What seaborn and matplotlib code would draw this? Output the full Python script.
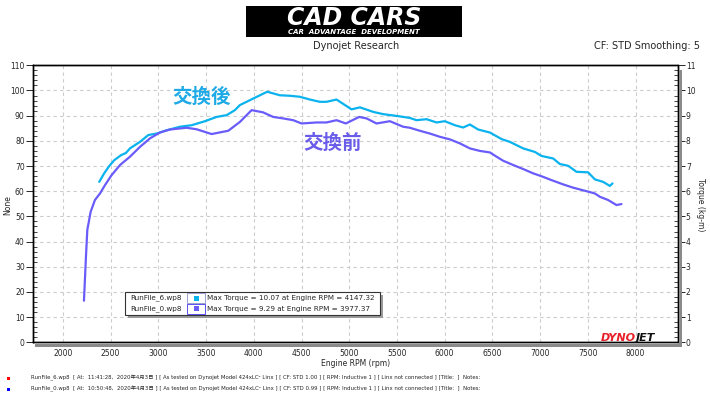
import numpy as np
import pandas as pd
import matplotlib
matplotlib.use("Agg")
import matplotlib.pyplot as plt
from matplotlib.patches import Rectangle
from matplotlib.ticker import MultipleLocator
import seaborn as sns

# ---------------- data ----------------
rpm_after = [2380, 2432, 2485, 2537, 2608, 2660, 2702, 2807, 2894, 2981, 3086, 3226,
             3348, 3488, 3610, 3715, 3802, 3854, 3994, 4140, 4273, 4378, 4483, 4588,
             4692, 4762, 4867, 5024, 5112, 5251, 5356, 5496, 5635, 5705, 5810, 5915,
             6002, 6107, 6194, 6264, 6351, 6474, 6596, 6683, 6823, 6945, 7015, 7137,
             7207, 7294, 7382, 7503, 7574, 7661, 7731, 7759]
tq_after = [6.37, 6.71, 7.00, 7.23, 7.43, 7.52, 7.70, 7.96, 8.23, 8.29, 8.42, 8.56,
            8.62, 8.78, 8.95, 9.02, 9.22, 9.42, 9.68, 9.95, 9.81, 9.79, 9.75, 9.64,
            9.55, 9.55, 9.64, 9.25, 9.33, 9.15, 9.06, 8.99, 8.91, 8.82, 8.86, 8.73,
            8.78, 8.62, 8.53, 8.65, 8.45, 8.33, 8.07, 7.96, 7.70, 7.56, 7.40, 7.30,
            7.08, 7.01, 6.77, 6.75, 6.47, 6.37, 6.21, 6.31]

rpm_before = [2220, 2241, 2255, 2290, 2335, 2388, 2440, 2510, 2598, 2702, 2807, 2912,
              3016, 3121, 3296, 3400, 3558, 3732, 3854, 3977, 4098, 4203, 4308, 4413,
              4500, 4658, 4762, 4867, 4965, 5104, 5182, 5286, 5426, 5565, 5635, 5740,
              5845, 5950, 6054, 6159, 6264, 6369, 6474, 6544, 6613, 6718, 6823, 6927,
              7032, 7120, 7242, 7347, 7487, 7574, 7626, 7713, 7801, 7853]
tq_before = [1.65, 3.40, 4.46, 5.18, 5.65, 5.91, 6.24, 6.64, 7.04, 7.37, 7.76, 8.10,
             8.33, 8.45, 8.52, 8.46, 8.27, 8.40, 8.75, 9.22, 9.13, 8.95, 8.89, 8.82,
             8.69, 8.73, 8.73, 8.82, 8.69, 8.95, 8.89, 8.69, 8.78, 8.56, 8.52, 8.40,
             8.29, 8.16, 8.06, 7.90, 7.70, 7.60, 7.54, 7.37, 7.21, 7.04, 6.88, 6.71,
             6.57, 6.44, 6.27, 6.14, 6.00, 5.91, 5.78, 5.65, 5.45, 5.49]

run_files = ["RunFile_6.wp8", "RunFile_0.wp8"]
legend_texts = ["Max Torque = 10.07 at Engine RPM = 4147.32",
                "Max Torque = 9.29 at Engine RPM = 3977.37"]
footer_texts = [
    "RunFile_6.wp8  [ At:  11:41:28,  2020年4月3日 ] [ As tested on Dynojet Model 424xLC² Linx ] [ CF: STD 1.00 ] [ RPM: Inductive 1 ] [ Linx not connected ] [Title:  ]  Notes:",
    "RunFile_0.wp8  [ At:  10:50:48,  2020年4月3日 ] [ As tested on Dynojet Model 424xLC² Linx ] [ CF: STD 0.99 ] [ RPM: Inductive 1 ] [ Linx not connected ] [Title:  ]  Notes:",
]
label_after = "交換後"
label_before = "交換前"

C_AFTER = "#0AB2EE"
C_BEFORE = "#6A5CFA"

# ---------------- style ----------------
sns.set_style("white")
plt.rcParams['font.family'] = ['DejaVu Sans', 'Noto Sans CJK JP']

W, H = 710, 398
fig = plt.figure(figsize=(W / 100, H / 100), dpi=100)
fig.patch.set_facecolor("white")


def px(x, y):
    return (x / W, 1 - y / H)


L, R, T, B = 33, 677.5, 65.3, 342.3
ax = fig.add_axes([L / W, 1 - B / H, (R - L) / W, (B - T) / H])
ax2 = ax.twinx()

# gray shadow bars
fig.patches.append(Rectangle(px(35, 347), (681.5 - 35) / W, 3.5 / H, transform=fig.transFigure,
                             facecolor="#8a8a8a", edgecolor="none", zorder=0))
fig.patches.append(Rectangle(px(678.5, 347), 3.5 / W, (347 - 70) / H, transform=fig.transFigure,
                             facecolor="#8a8a8a", edgecolor="none", zorder=0))

ax.set_xlim(1686, 8440)
ax.set_ylim(0, 110)
ax2.set_ylim(0, 11)

df_after = pd.DataFrame({"rpm": rpm_after, "torque": tq_after})
df_before = pd.DataFrame({"rpm": rpm_before, "torque": tq_before})
sns.lineplot(data=df_after, x="rpm", y="torque", ax=ax2, color=C_AFTER, lw=1.6,
             estimator=None, sort=False)
sns.lineplot(data=df_before, x="rpm", y="torque", ax=ax2, color=C_BEFORE, lw=1.6,
             estimator=None, sort=False)
ax2.set_xlim(1686, 8440)

# grid
ax.xaxis.set_major_locator(MultipleLocator(500))
ax.xaxis.set_minor_locator(MultipleLocator(100))
ax.yaxis.set_major_locator(MultipleLocator(10))
ax.yaxis.set_minor_locator(MultipleLocator(2))
ax2.yaxis.set_major_locator(MultipleLocator(1))
ax2.yaxis.set_minor_locator(MultipleLocator(0.2))
ax.grid(True, which="major", color="#cccccc", linestyle=(0, (3, 3)), lw=0.8)
ax.set_axisbelow(True)

for a in (ax, ax2):
    for s in a.spines.values():
        s.set_color("black")
        s.set_linewidth(1.0)

ax.tick_params(axis="x", which="major", direction="in", length=4, width=0.7,
               labelsize=5.5, pad=5, top=False)
ax.tick_params(axis="x", which="minor", direction="in", length=3, width=0.6, top=False)
ax.tick_params(axis="y", which="major", direction="out", length=5, width=0.7,
               labelsize=5.5, pad=1)
ax.tick_params(axis="y", which="minor", direction="in", length=3, width=0.6)
ax2.tick_params(axis="y", which="major", direction="out", length=5, width=0.7,
                labelsize=5.5, pad=1)
ax2.tick_params(axis="y", which="minor", direction="in", length=3, width=0.6)

ax.set_xlabel("")
ax.set_ylabel("")
ax2.set_xlabel("")
ax2.set_ylabel("")

# annotations
ax2.text(3456, 9.73, label_after, color="#1EAAE6", fontsize=14, fontweight="bold",
         family=["Noto Sans CJK JP"], ha="center", va="center")
ax2.text(4829, 7.91, label_before, color="#6A5CEA", fontsize=14, fontweight="bold",
         family=["Noto Sans CJK JP"], ha="center", va="center")

# axis labels
fig.text(*px(356, 363), "Engine RPM (rpm)", fontsize=5.5, ha="center", va="center")
fig.text(*px(8, 205), "None", fontsize=5.5, ha="center", va="center", rotation=90)
fig.text(*px(701, 205), "Torque (kg-m)", fontsize=5.5, ha="center", va="center", rotation=270)

# header
fig.patches.append(Rectangle(px(246, 37), (462 - 246) / W, 31 / H, transform=fig.transFigure,
                             facecolor="black", edgecolor="none"))
fig.text(*px(354, 18), "CAD CARS", color="white", fontsize=17, fontweight="bold",
         fontstyle="italic", ha="center", va="center", family=["DejaVu Sans"])
fig.text(*px(354, 32), "CAR  ADVANTAGE  DEVELOPMENT", color="white", fontsize=5,
         fontweight="bold", fontstyle="italic", ha="center", va="center")
fig.text(*px(356, 46), "Dynojet Research", fontsize=7, ha="center", va="center")
fig.text(*px(700, 46), "CF: STD Smoothing: 5", fontsize=7, ha="right", va="center")

# DYNOJET logo
fig.text(*px(601, 338), "DYNO", color="#e8202a", fontsize=8, fontweight="bold",
         fontstyle="italic", ha="left", va="center")
fig.text(*px(636, 338), "JET", color="#111111", fontsize=8, fontweight="bold",
         fontstyle="italic", ha="left", va="center")

# legend box
fig.patches.append(Rectangle(px(128, 318), (383 - 128) / W, 23 / H, transform=fig.transFigure,
                             facecolor="#9a9a9a", edgecolor="none", zorder=5))
fig.patches.append(Rectangle(px(125, 315), (380 - 125) / W, 23 / H, transform=fig.transFigure,
                             facecolor="white", edgecolor="#333333", lw=0.8, zorder=6))
row_y = [298, 308.5]
cell_cols = [C_AFTER, C_BEFORE]
for i in range(2):
    yc = row_y[i]
    fig.text(*px(130, yc), run_files[i], fontsize=5.2, ha="left", va="center", zorder=7)
    fig.patches.append(Rectangle(px(187, yc + 5), 18 / W, 10 / H, transform=fig.transFigure,
                                 facecolor="white",
                                 edgecolor="#9aa0d0" if i == 0 else "#5a50f0",
                                 lw=0.7, zorder=7))
    fig.patches.append(Rectangle(px(193.5, yc + 2.5), 5 / W, 5 / H, transform=fig.transFigure,
                                 facecolor=cell_cols[i], edgecolor="none", zorder=8))
    fig.text(*px(207, yc), legend_texts[i], fontsize=5.2, ha="left", va="center", zorder=7)

# footer
foot_y = [378, 389]
foot_cols = ["#ff0000", "#0000ff"]
for i in range(2):
    fig.patches.append(Rectangle(px(7, foot_y[i] + 1.5), 3 / W, 3 / H, transform=fig.transFigure,
                                 facecolor=foot_cols[i], edgecolor="none"))
    fig.text(*px(31, foot_y[i]), footer_texts[i], fontsize=3.9, ha="left", va="center",
             family=["DejaVu Sans", "Noto Sans CJK JP"])

fig.savefig("out.png", dpi=100)
